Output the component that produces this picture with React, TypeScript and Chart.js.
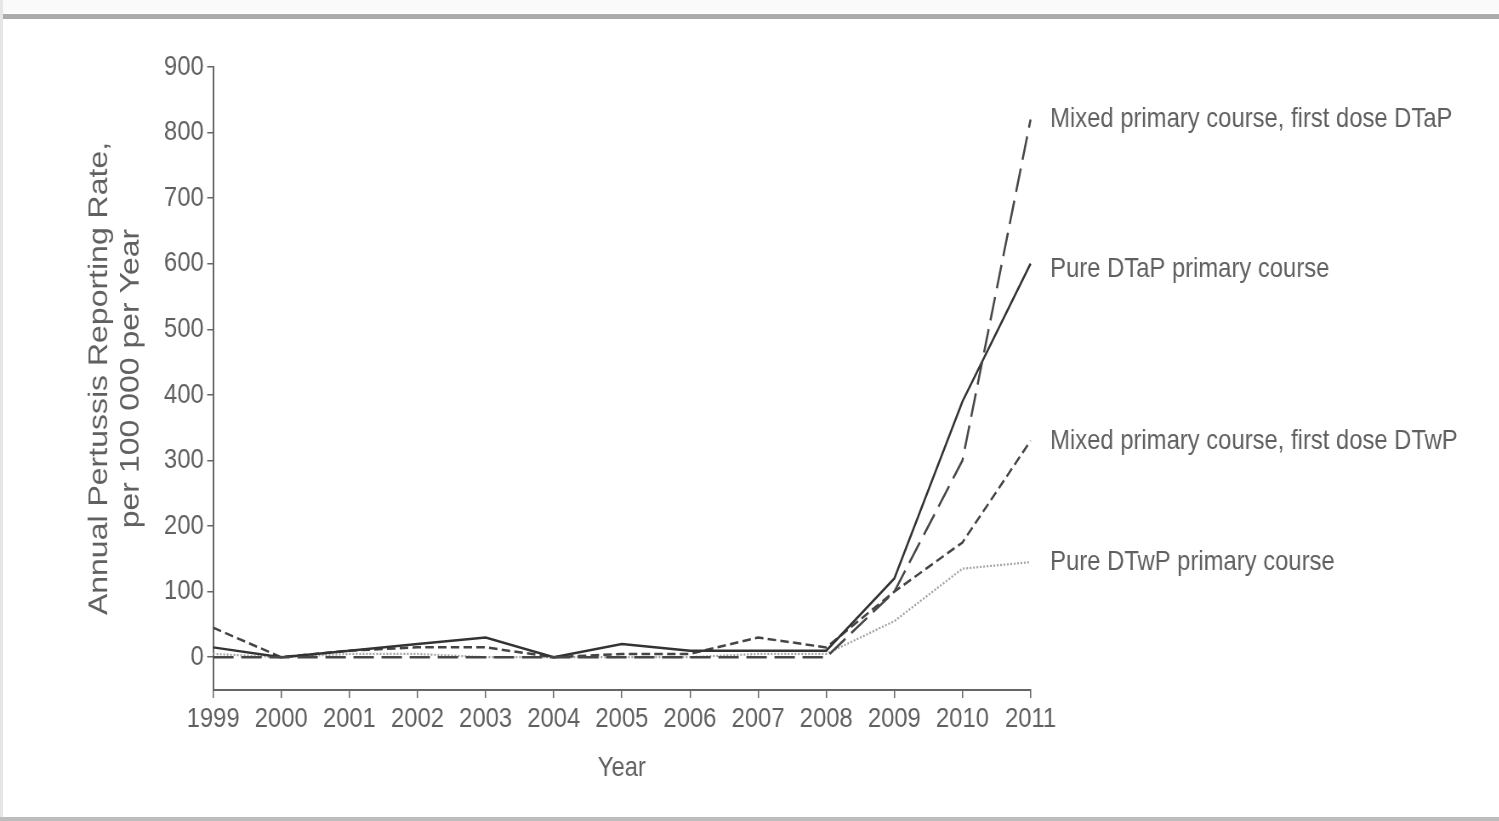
import React, { useEffect, useRef } from "react";
import { Chart, registerables } from "chart.js";

Chart.register(...registerables);

const years = ["1999", "2000", "2001", "2002", "2003", "2004", "2005", "2006", "2007", "2008", "2009", "2010", "2011"];
const mixedDTaP = [0, 0, 0, 0, 0, 0, 0, 0, 0, 0, 100, 300, 820];
const pureDTaP = [15, 0, 10, 20, 30, 0, 20, 10, 10, 10, 120, 390, 600];
const mixedDTwP = [45, 0, 10, 15, 15, 0, 5, 5, 30, 15, 100, 175, 330];
const pureDTwP = [5, 0, 5, 5, 0, 0, 0, 0, 5, 5, 55, 135, 145];
const seriesNames = [
  "Mixed primary course, first dose DTaP",
  "Pure DTaP primary course",
  "Mixed primary course, first dose DTwP",
  "Pure DTwP primary course",
];
const yTitle = ["Annual Pertussis Reporting Rate,", "per 100 000 per Year"];
const xTitle = "Year";

const SQUEEZE = 0.85;
const FULL_W = 1499 / SQUEEZE;
const FONT = "'Liberation Sans', Arial, Helvetica, sans-serif";
const TEXT = "#606060";

const endLabels = {
  id: "endLabels",
  afterDatasetsDraw(chart: any) {
    const { ctx, chartArea } = chart;
    const yScale = chart.scales.y;
    ctx.save();
    ctx.font = `28px ${FONT}`;
    ctx.fillStyle = TEXT;
    ctx.textAlign = "left";
    ctx.textBaseline = "middle";
    chart.data.datasets.forEach((ds: any, i: number) => {
      const v = ds.data[ds.data.length - 1];
      const y = yScale.getPixelForValue(v) + (i === 1 ? 6 : 0);
      ctx.fillText(seriesNames[i], chartArea.right + 23, y);
    });
    ctx.restore();
  },
};

export default function App() {
  const ref = useRef<HTMLCanvasElement | null>(null);
  useEffect(() => {
    if (!ref.current) return;
    const chart = new Chart(ref.current, {
      type: "line",
      data: {
        labels: years,
        datasets: [
          { label: seriesNames[0], data: mixedDTaP, borderColor: "#474747", borderWidth: 2.5, borderDash: [24, 9], pointRadius: 0, tension: 0 },
          { label: seriesNames[1], data: pureDTaP, borderColor: "#333333", borderWidth: 2.5, pointRadius: 0, tension: 0 },
          { label: seriesNames[2], data: mixedDTwP, borderColor: "#444444", borderWidth: 2.5, borderDash: [10, 5], pointRadius: 0, tension: 0 },
          { label: seriesNames[3], data: pureDTwP, borderColor: "#a0a0a0", borderWidth: 2.2, borderDash: [2, 2], pointRadius: 0, tension: 0 },
        ],
      },
      options: {
        animation: false,
        responsive: true,
        maintainAspectRatio: false,
        layout: { padding: { left: 0, top: 67, right: FULL_W - 1030 / SQUEEZE, bottom: 0 } },
        plugins: { legend: { display: false }, tooltip: { enabled: false } },
        scales: {
          x: {
            type: "category",
            offset: false,
            grid: { drawOnChartArea: false, drawTicks: true, tickLength: 8, color: "#666", lineWidth: 1.5 },
            border: { color: "#666", width: 2 },
            ticks: { color: TEXT, font: { family: FONT, size: 28 }, padding: 4, maxRotation: 0, autoSkip: false },
            title: { display: true, text: xTitle, color: TEXT, font: { family: FONT, size: 28 }, padding: { top: 0, bottom: 36 } },
            afterFit(scale: any) { scale.height = 821 - 690; },
          },
          y: {
            min: -50,
            max: 900,
            grid: { drawOnChartArea: false, drawTicks: true, tickLength: 7, color: "#666", lineWidth: 1.5 },
            border: { color: "#666", width: 2 },
            ticks: { stepSize: 100, color: TEXT, font: { family: FONT, size: 28 }, padding: 4 },
            title: { display: true, text: yTitle, color: TEXT, font: { family: FONT, size: 32, lineHeight: 1.18 }, padding: { top: 98, bottom: 0 } },
            afterBuildTicks(scale: any) { scale.ticks = scale.ticks.filter((t: any) => t.value >= 0); },
            afterFit(scale: any) { scale.width = 213 / SQUEEZE; },
          },
        },
      },
      plugins: [endLabels],
    });
    return () => chart.destroy();
  }, []);

  return (
    <div style={{ position: "absolute", left: 0, top: 0, width: 1499, height: 821, overflow: "hidden", background: "#ffffff" }}>
      <div style={{ position: "absolute", left: 0, top: 0, width: 1499, height: 13, background: "#fafafa" }} />
      <div style={{ position: "absolute", left: 0, top: 14, width: 1499, height: 5, background: "#ababab" }} />
      <div style={{ position: "absolute", left: 0, top: 0, width: 3, height: 821, background: "#e6e6e6" }} />
      <div style={{ position: "absolute", left: 0, top: 817, width: 1499, height: 4, background: "#bdbdbd" }} />
      <div style={{ position: "absolute", left: 0, top: 0, width: FULL_W, height: 821, transform: `scaleX(${SQUEEZE})`, transformOrigin: "left top" }}>
        <canvas ref={ref} />
      </div>
    </div>
  );
}
